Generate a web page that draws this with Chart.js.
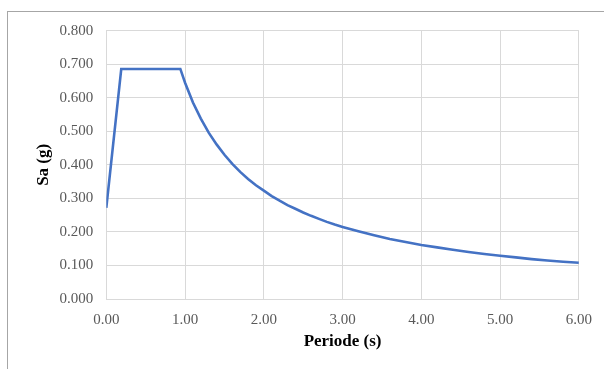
<!DOCTYPE html>
<html>
<head>
<meta charset="utf-8">
<script src="https://cdn.jsdelivr.net/npm/chart.js@4"></script>
<style>
  html, body { margin: 0; padding: 0; background: #fff; }
  #wrap { position: relative; width: 604px; height: 369px; overflow: hidden; }
  #frame { position: absolute; left: 7px; top: 11px; width: 620px; height: 400px;
           border-left: 1px solid #a6a6a6; border-top: 1px solid #a6a6a6; }
  canvas { position: absolute; left: 0; top: 0; }
</style>
</head>
<body>
<div id="wrap">
  <div id="frame"></div>
  <canvas id="chart" width="604" height="369"></canvas>
</div>
<script>
// response spectrum
const periods = [0, 0.19, 0.94, 1.0, 1.1, 1.2, 1.3, 1.4, 1.5, 1.6, 1.7, 1.8, 1.9,
  2.0, 2.1, 2.2, 2.3, 2.4, 2.5, 2.6, 2.7, 2.8, 2.9, 3.0, 3.2, 3.4, 3.6, 3.8,
  4.0, 4.2, 4.4, 4.6, 4.8, 5.0, 5.2, 5.4, 5.6, 5.8, 6.0];
const sa = [0.272, 0.686, 0.686, 0.645, 0.586, 0.538, 0.496, 0.461, 0.430, 0.403, 0.379, 0.358, 0.339,
  0.323, 0.307, 0.293, 0.280, 0.269, 0.258, 0.248, 0.239, 0.230, 0.222, 0.215, 0.202, 0.190, 0.179, 0.170,
  0.161, 0.154, 0.147, 0.140, 0.134, 0.129, 0.124, 0.119, 0.115, 0.111, 0.108];
const xTitle = 'Periode (s)';
const yTitle = 'Sa (g)';

const points = periods.map((t, i) => ({ x: t, y: sa[i] }));
const tickFont = { family: 'Liberation Serif', size: 15 };
const titleFont = { family: 'Liberation Serif', size: 17, weight: 'bold' };

new Chart(document.getElementById('chart'), {
  type: 'line',
  data: {
    datasets: [{
      data: points,
      borderColor: '#4472C4',
      borderWidth: 2.6,
      pointRadius: 0,
      tension: 0,
      fill: false
    }]
  },
  options: {
    responsive: false,
    animation: false,
    layout: { padding: { left: 0, right: 24.7, top: 30.7, bottom: 0 } },
    plugins: { legend: { display: false }, tooltip: { enabled: false } },
    scales: {
      x: {
        type: 'linear',
        min: 0, max: 6,
        afterFit: s => { s.height = 70; },
        grid: { color: '#d9d9d9', drawTicks: false },
        border: { color: '#d9d9d9' },
        ticks: { stepSize: 1, padding: 12, color: '#595959', font: tickFont,
                 callback: v => v.toFixed(2) },
        title: { display: true, text: xTitle, color: '#000', font: titleFont,
                 padding: { top: 0, bottom: 17.6 } }
      },
      y: {
        min: 0, max: 0.8,
        afterFit: s => { s.width = 106.3; },
        grid: { color: '#d9d9d9', drawTicks: false },
        border: { color: '#d9d9d9' },
        ticks: { stepSize: 0.1, padding: 13, color: '#595959', font: tickFont,
                 callback: v => v.toFixed(3) },
        title: { display: true, text: yTitle, color: '#000', font: titleFont,
                 padding: { top: 33.3, bottom: 0 } }
      }
    }
  }
});
</script>
</body>
</html>
